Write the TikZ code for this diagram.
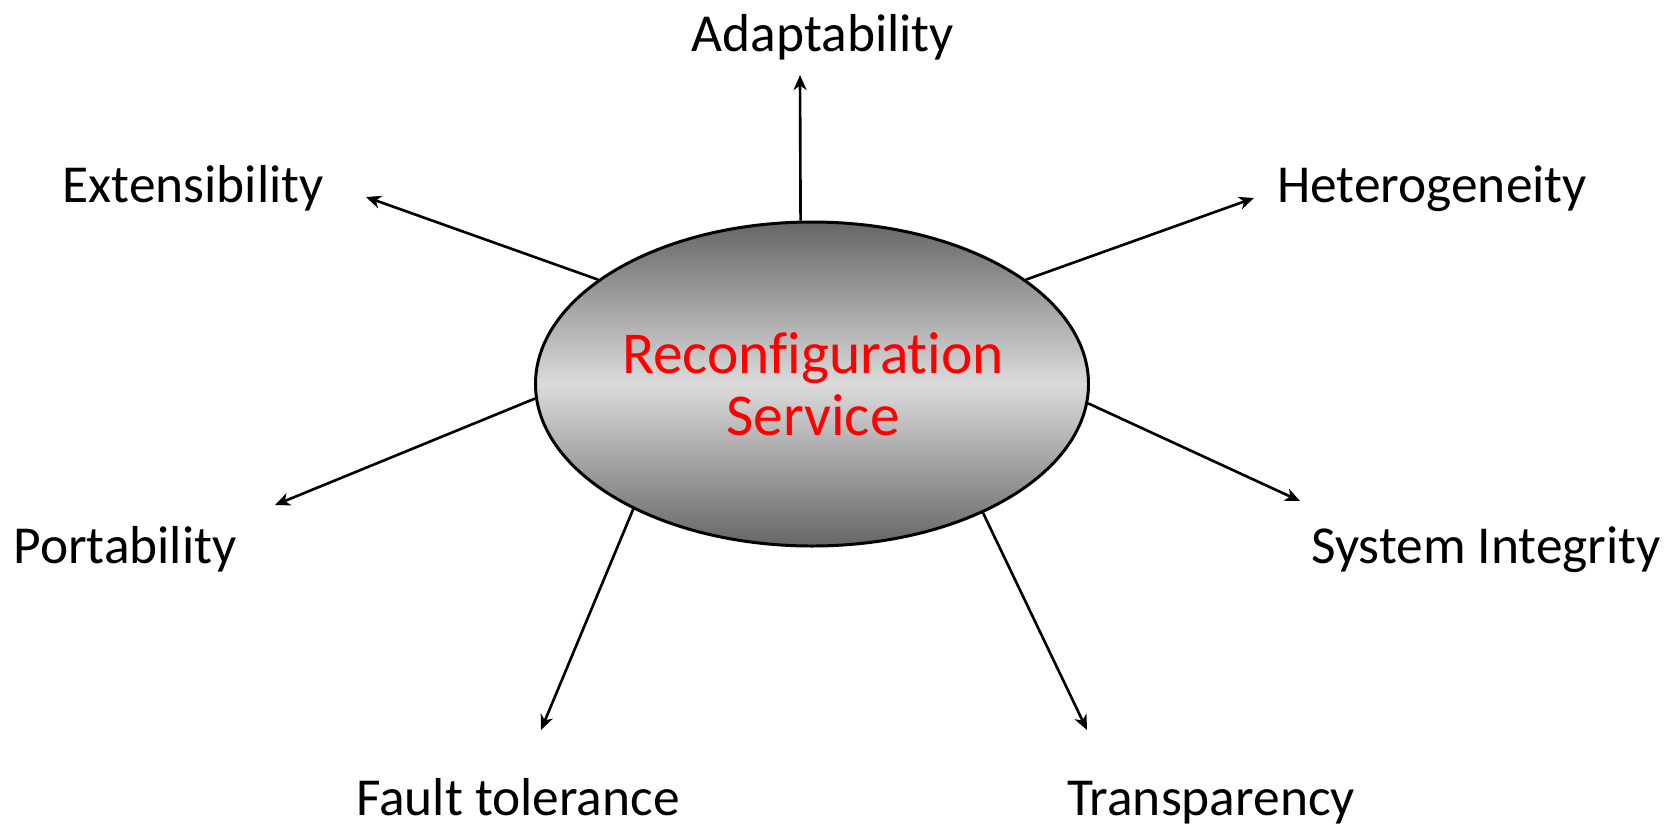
\documentclass[tikz,border=0pt]{standalone}
\usepackage{fontspec}
\setmainfont{Carlito}[Ligatures=NoCommon]
\usepackage{xcolor}
\usepackage{tikz}
\usetikzlibrary{shapes.geometric, arrows.meta}

\begin{document}
\begin{tikzpicture}[font=\fontsize{15.2}{17.6}\selectfont, >={Stealth[length=1.5mm, width=1.3mm, inset=0.45mm]}]
    \tikzstyle{core} = [ellipse, draw, line width=0.85pt, minimum width=5.53cm, minimum height=3.24cm, inner sep=0pt, top color=black!60, bottom color=black!60, middle color=black!14]
    \tikzstyle{prop} = [anchor=base, inner sep=0pt]
    \tikzstyle{title} = [prop, red, font=\fontsize{16.9}{19}\selectfont]
    \tikzstyle{link} = [->, line width=0.75pt]
    \useasboundingbox (0,0) rectangle (16.71,8.30);

    \node [core] (rs) at (8.12,4.46) {};
    \node [title] (rc) at (8.13,4.57) {Reconfiguration};
    \node [title] (sv) at (8.13,3.95) {Service};

    \node [prop] (ad) at (8.23,7.79) {Adaptability};
    \node [prop] (ex) at (1.93,6.28) {Extensibility};
    \node [prop] (he) at (14.32,6.28) {Heterogeneity};
    \node [prop] (po) at (1.25,2.67) {Portability};
    \node [prop] (si) at (14.86,2.67) {System Integrity};
    \node [prop] (ft) at (5.18,0.15) {Fault tolerance};
    \node [prop] (tr) at (12.11,0.15) {Transparency};

    \coordinate (tad) at (8.00,7.55);
    \coordinate (tex) at (3.66,6.33);
    \coordinate (the) at (12.54,6.32);
    \coordinate (tpo) at (2.75,3.25);
    \coordinate (tsi) at (13.00,3.29);
    \coordinate (tft) at (5.41,1.00);
    \coordinate (ttr) at (10.87,1.00);

    \draw [link] (rs.94.3) -- (tad);
    \draw [link] (rs.154.6) -- (tex);
    \draw [link] (rs.26.5) -- (the);
    \draw [link] (rs.183.5) -- (tpo);
    \draw [link] (rs.356.5) -- (tsi);
    \draw [link] (rs.215.4) -- (tft);
    \draw [link] (rs.323.2) -- (ttr);
\end{tikzpicture}
\end{document}
